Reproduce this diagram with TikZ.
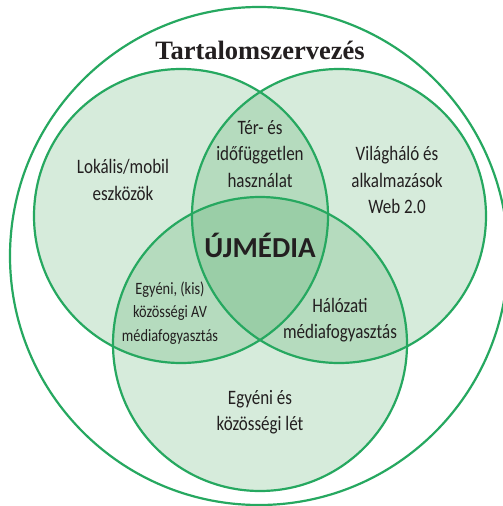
\documentclass[tikz,border=0pt]{standalone}
\usepackage{fontspec}
\setmainfont{Liberation Serif}
\newfontfamily\condfont[FakeStretch=0.83]{Carlito}
\newfontfamily\boldsans{Carlito}
\definecolor{ring}{RGB}{38,168,96}
\definecolor{setfill}{RGB}{50,155,75}
\definecolor{txt}{RGB}{35,31,32}
\tikzset{
  setcirc/.style={draw=ring, line width=2.2pt},
  setshade/.style={fill=setfill, opacity=0.2},
  lbl/.style={align=center, text=txt, font=\condfont\fontsize{20.5}{26.5}\selectfont, inner sep=0pt},
  lblsmall/.style={align=center, text=txt, font=\condfont\fontsize{17.3}{23.5}\selectfont, inner sep=0pt},
}
\begin{document}
\begin{tikzpicture}[x=1pt,y=-1pt]
\useasboundingbox (0,0) rectangle (503,506);
\fill[white] (0,0) rectangle (503,506);
\draw[setcirc] (259,256) circle (249);
\fill[setshade] (181,216) circle (147);
\fill[setshade] (339,216) circle (147);
\fill[setshade] (260,344) circle (147);
\draw[setcirc] (181,216) circle (147);
\draw[setcirc] (339,216) circle (147);
\draw[setcirc] (260,344) circle (147);
\node[text=txt, font=\bfseries\fontsize{26.5}{30}\selectfont, inner sep=0pt] (title) at (260,50) {Tartalomszervezés};
\node[lbl] (lok) at (123,180) {Lokális/mobil\\eszközök};
\node[lbl] (ter) at (260,154) {Tér- és\\időfüggetlen\\használat};
\node[lbl] (vil) at (397,180) {Világháló és\\alkalmazások\\Web 2.0};
\node[text=txt, font=\boldsans\bfseries\fontsize{29}{32}\selectfont, inner sep=0pt] (uj) at (260,245) {ÚJMÉDIA};
\node[lblsmall] (egy) at (170,313) {Egyéni, (kis)\\közösségi AV\\médiafogyasztás};
\node[lbl] (hal) at (340,320) {Hálózati\\médiafogyasztás};
\node[lbl] (let) at (260,412) {Egyéni és\\közösségi lét};
\end{tikzpicture}
\end{document}
